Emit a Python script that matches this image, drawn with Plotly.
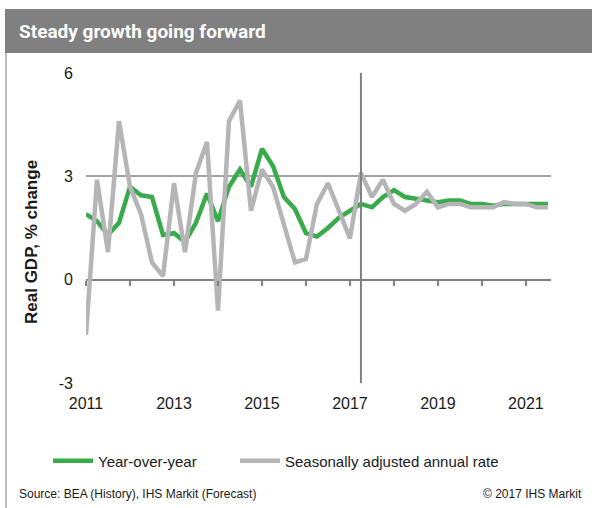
import plotly.graph_objects as go

# ---------------- data ----------------
YEARS = [2011, 2012, 2013, 2014, 2015, 2016, 2017, 2018, 2019, 2020, 2021]
QUARTER_LABELS = [f"{y}Q{q}" for y in YEARS for q in range(1, 5)][:43]
QUARTER_POS = [y + (q - 1) / 4 for y in YEARS for q in range(1, 5)][:43]

yoy = [1.9, 1.7, 1.3, 1.65,
       2.7, 2.45, 2.4, 1.3,
       1.35, 1.1, 1.65, 2.5,
       1.7, 2.7, 3.2, 2.7,
       3.8, 3.3, 2.4, 2.05,
       1.35, 1.25, 1.5, 1.8,
       2.0, 2.2, 2.1, 2.4,
       2.6, 2.4, 2.35, 2.3,
       2.25, 2.3, 2.3, 2.2,
       2.2, 2.15, 2.2, 2.2,
       2.2, 2.2, 2.2]

saar = [-1.6, 2.9, 0.8, 4.6,
        2.7, 1.9, 0.5, 0.1,
        2.8, 0.8, 3.1, 4.0,
        -0.9, 4.6, 5.2, 2.0,
        3.2, 2.7, 1.6, 0.5,
        0.6, 2.2, 2.8, 2.0,
        1.2, 3.1, 2.4, 2.9,
        2.2, 2.0, 2.2, 2.55,
        2.1, 2.2, 2.2, 2.1,
        2.1, 2.1, 2.25, 2.2,
        2.2, 2.1, 2.1]

X_TICKS = [2011, 2013, 2015, 2017, 2019, 2021]
X_TICK_TEXT = ["2011", "2013", "2015", "2017", "2019", "2021"]
Y_TICKS = [-3, 0, 3, 6]
Y_TICK_TEXT = ["-3", "0", "3", "6"]
FORECAST_START = 2017.25
X_RANGE = [2011, 2021.57]
Y_RANGE = [-3, 6]

# ---------------- layout helpers ----------------
W, H = 592, 508
ML, MR, MT, MB = 86, 41, 73, 125
PW, PH = W - ML - MR, H - MT - MB


def px_x(px):
    return (px - ML) / PW


def px_y(py):
    return (H - MB - py) / PH


FONT = "Liberation Sans, Arial, sans-serif"
GREEN = "#38ab4a"
GREY = "#b5b5b8"

fig = go.Figure()
fig.add_trace(go.Scatter(x=QUARTER_POS, y=yoy, mode="lines", name="Year-over-year",
                         line=dict(color=GREEN, width=4.5), text=QUARTER_LABELS,
                         legend="legend",
                         hovertemplate="%{text}: %{y}<extra></extra>"))
fig.add_trace(go.Scatter(x=QUARTER_POS, y=saar, mode="lines", name="Seasonally adjusted annual rate",
                         line=dict(color=GREY, width=4.5), text=QUARTER_LABELS,
                         legend="legend2",
                         hovertemplate="%{text}: %{y}<extra></extra>"))
# dummy trace so the tick-only axis at y=0 is rendered
fig.add_trace(go.Scatter(x=[X_RANGE[0]], y=[None], xaxis="x2", showlegend=False,
                         hoverinfo="skip", mode="lines"))

LEGEND_STYLE = dict(orientation="h", xanchor="left", y=px_y(461), yanchor="middle",
                    font=dict(size=15, family=FONT, color="#1a1a1a"),
                    bgcolor="rgba(0,0,0,0)", itemwidth=40)

fig.update_layout(
    width=W, height=H,
    margin=dict(l=ML, r=MR, t=MT, b=MB),
    paper_bgcolor="white", plot_bgcolor="white",
    font=dict(family=FONT, color="#1a1a1a"),
    showlegend=True,
    legend=dict(x=px_x(48), **LEGEND_STYLE),
    legend2=dict(x=px_x(235), **LEGEND_STYLE),
    xaxis=dict(range=X_RANGE, tickvals=X_TICKS, ticktext=X_TICK_TEXT, showgrid=False,
               zeroline=False, showline=False, ticks="", tickfont=dict(size=16),
               ticklabelstandoff=9, fixedrange=True),
    xaxis2=dict(range=X_RANGE, overlaying="x", anchor="free", position=1 / 3,
                tick0=2011, dtick=1, ticks="outside", ticklen=5, tickwidth=1.5,
                tickcolor="#808080", showticklabels=False, showgrid=False,
                zeroline=False, showline=False, fixedrange=True),
    yaxis=dict(range=Y_RANGE, tickvals=Y_TICKS, ticktext=Y_TICK_TEXT, showgrid=True,
               gridcolor="#a3a3a3", gridwidth=1.5, zeroline=True, zerolinecolor="#808080",
               zerolinewidth=2, showline=False, ticks="", tickfont=dict(size=16),
               ticklabelstandoff=12, fixedrange=True),
)

shapes = [
    # title bar
    dict(type="rect", xref="paper", yref="paper", x0=px_x(5), x1=px_x(593),
         y0=px_y(53), y1=px_y(9), fillcolor="#808080", line=dict(width=0), layer="below"),
    # left frame line
    dict(type="line", xref="paper", yref="paper", x0=px_x(6), x1=px_x(6),
         y0=px_y(53), y1=px_y(509), line=dict(color="#a6a6a6", width=1.5)),
    # forecast divider
    dict(type="line", xref="x", yref="paper", x0=FORECAST_START, x1=FORECAST_START,
         y0=0, y1=1, line=dict(color="#808080", width=2)),
]
fig.update_layout(shapes=shapes)

annotations = [
    dict(text="<b>Steady growth going forward</b>", xref="paper", yref="paper",
         x=px_x(17), y=px_y(32), xanchor="left", yanchor="middle", showarrow=False,
         font=dict(family="Liberation Sans Narrow, Roboto, Arial Narrow, sans-serif",
                   size=19, color="white")),
    dict(text="<b>Real GDP, % change</b>", xref="paper", yref="paper",
         x=px_x(31), y=px_y(242), xanchor="center", yanchor="middle", textangle=-90,
         showarrow=False, font=dict(family=FONT, size=17, color="#1a1a1a")),
    dict(text="Source: BEA (History), IHS Markit (Forecast)", xref="paper", yref="paper",
         x=px_x(17), y=px_y(494), xanchor="left", yanchor="middle", showarrow=False,
         font=dict(family=FONT, size=12, color="#1a1a1a")),
    dict(text="© 2017 IHS Markit", xref="paper", yref="paper",
         x=px_x(584), y=px_y(494), xanchor="right", yanchor="middle", showarrow=False,
         font=dict(family=FONT, size=12, color="#1a1a1a")),
]
fig.update_layout(annotations=annotations)

fig.write_html("out.html", config={"displayModeBar": False})
